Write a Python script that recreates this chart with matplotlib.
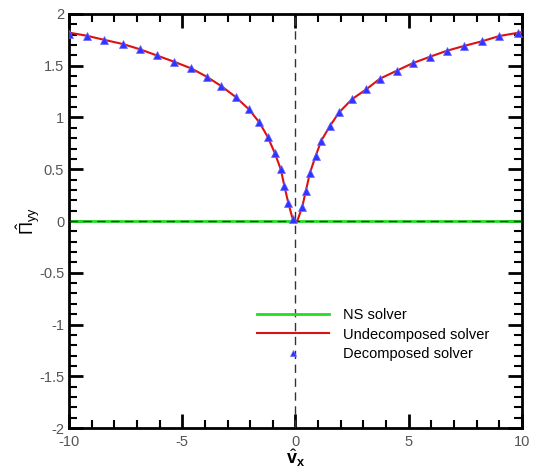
import matplotlib
matplotlib.use("Agg")
import matplotlib.pyplot as plt
from matplotlib.ticker import MultipleLocator

plt.rcParams["font.family"] = ["Liberation Sans", "DejaVu Sans"]
plt.rcParams["mathtext.fontset"] = "custom"
plt.rcParams["mathtext.rm"] = "Liberation Sans"
plt.rcParams["mathtext.bf"] = "Liberation Sans:bold"

# decomposed solver samples
dec_x = [-9.99, -9.22, -8.44, -7.63, -6.88, -6.13, -5.38, -4.61, -3.92, -3.28,
         -2.64, -2.07, -1.60, -1.23, -0.92, -0.65, -0.49, -0.32, -0.10,
         0.30, 0.46, 0.64, 0.89, 1.14, 1.52, 1.93, 2.49, 3.13, 3.73,
         4.47, 5.17, 5.94, 6.69, 7.44, 8.23, 9.00, 9.81]
dec_y = [1.81, 1.79, 1.75, 1.71, 1.66, 1.60, 1.54, 1.475, 1.394, 1.304,
         1.198, 1.082, 0.954, 0.814, 0.66, 0.50, 0.338, 0.177, 0.02,
         0.138, 0.293, 0.467, 0.628, 0.776, 0.918, 1.05, 1.176, 1.273, 1.375,
         1.452, 1.524, 1.587, 1.645, 1.691, 1.736, 1.787, 1.82]

# undecomposed solver curve
und_x = [-10.0, -9.22, -8.44, -7.63, -6.88, -6.13, -5.38, -4.61, -3.92, -3.28,
         -2.64, -2.07, -1.60, -1.23, -0.92, -0.65, -0.49, -0.32, -0.15, -0.05,
         0.08, 0.30, 0.46, 0.64, 0.89, 1.14, 1.52, 1.93, 2.49, 3.13, 3.73,
         4.47, 5.17, 5.94, 6.69, 7.44, 8.23, 9.00, 10.0]
und_y = [1.82, 1.79, 1.75, 1.71, 1.66, 1.60, 1.54, 1.475, 1.394, 1.304,
         1.198, 1.082, 0.954, 0.814, 0.66, 0.50, 0.338, 0.177, 0.04, 0.0,
         0.0, 0.138, 0.293, 0.467, 0.628, 0.776, 0.918, 1.05, 1.176, 1.273, 1.375,
         1.452, 1.524, 1.587, 1.645, 1.691, 1.736, 1.787, 1.825]

# NS solver: zero everywhere
ns_x = [-10, 10]
ns_y = [0, 0]

x_ticks = [-10, -5, 0, 5, 10]
y_ticks = [-2, -1.5, -1, -0.5, 0, 0.5, 1, 1.5, 2]
y_tick_labels = ["-2", "-1.5", "-1", "-0.5", "0", "0.5", "1", "1.5", "2"]

fig = plt.figure(figsize=(5.37, 4.74), dpi=100)
ax = fig.add_axes([0.1285, 0.097, 0.8435, 0.8735])

ax.plot(ns_x, ns_y, color="#22dd22", lw=2, label="NS solver", zorder=2)
ax.plot(und_x, und_y, color="#dd1111", lw=1.5, label="Undecomposed solver", zorder=3)
ax.plot(dec_x, dec_y, ls="none", marker="^", ms=5.5, color="#3333ff",
        mec="#6666ff", mew=0.5, label="Decomposed solver", zorder=4)

# dashed reference lines through the origin
ax.axhline(0, color="#333333", ls=(0, (6, 4)), lw=1, zorder=3)
ax.axvline(0, color="#333333", ls=(0, (6, 4)), lw=1, zorder=3)

ax.set_xlim(-10, 10)
ax.set_ylim(-2, 2)
ax.set_xticks(x_ticks)
ax.set_xticklabels([str(t) for t in x_ticks])
ax.set_yticks(y_ticks)
ax.set_yticklabels(y_tick_labels)
ax.xaxis.set_minor_locator(MultipleLocator(1))
ax.yaxis.set_minor_locator(MultipleLocator(0.1))

ax.tick_params(which="both", direction="in", top=True, right=True,
               labelsize=10.5, labelcolor="#555555", width=1.5)
ax.tick_params(which="major", length=10, width=2)
ax.tick_params(which="minor", length=6)
ax.tick_params(axis="x", pad=5)
for s in ax.spines.values():
    s.set_linewidth(2)

ax.set_xlabel(r"$\hat{\mathbf{v}}_{\mathbf{x}}$", fontsize=13, labelpad=-1)
ax.set_ylabel(r"$\hat{\Pi}_{\mathrm{yy}}$", fontsize=13, labelpad=-2)

leg = ax.legend(loc="lower left", bbox_to_anchor=(0.385, 0.131), frameon=False,
                fontsize=10.5, handlelength=5.0, handletextpad=0.9,
                labelspacing=0.35, markerscale=0.7)

fig.savefig("out.png", dpi=100)
